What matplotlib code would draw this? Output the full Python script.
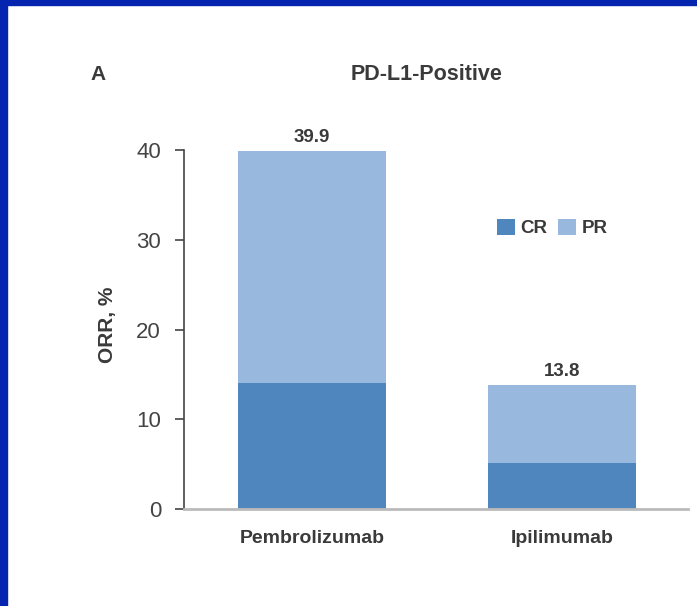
import matplotlib
matplotlib.use("Agg")
import matplotlib.pyplot as plt
from matplotlib.patches import Rectangle

categories = ["Pembrolizumab", "Ipilimumab"]
cr_values = [14.0, 5.1]
pr_values = [25.9, 8.7]
totals = [39.9, 13.8]
total_labels = ["39.9", "13.8"]
series_names = ["CR", "PR"]
yticks = [0, 10, 20, 30, 40]

CR_COLOR = "#4F86BD"
PR_COLOR = "#98B8DE"
TXT = "#3a3a3a"

plt.rcParams["font.family"] = ["Liberation Sans", "DejaVu Sans"]

W, H = 697, 606
fig = plt.figure(figsize=(W / 100, H / 100), dpi=100)
fig.patch.set_facecolor("white")

# blue frame (top and left)
fig.patches.append(Rectangle((0, 1 - 5 / H), 1, 5 / H, transform=fig.transFigure,
                             color="#0524B0", zorder=0))
fig.patches.append(Rectangle((0, 0), 7 / W, 1, transform=fig.transFigure,
                             color="#0524B0", zorder=0))

ax_l, ax_r, ax_b, ax_t = 184, 688, 509, 150
ax = fig.add_axes([ax_l / W, (H - ax_b) / H, (ax_r - ax_l) / W, (ax_b - ax_t) / H])

x = list(range(len(categories)))
bw = 0.59
ax.bar(x, cr_values, width=bw, color=CR_COLOR, label=series_names[0], zorder=2)
ax.bar(x, pr_values, width=bw, bottom=cr_values, color=PR_COLOR,
       label=series_names[1], zorder=2)

for xi, t, lab in zip(x, totals, total_labels):
    ax.text(xi, t + 0.6, lab, ha="center", va="bottom", fontsize=13.5,
            fontweight="bold", color=TXT)

ax.set_xlim(-0.512, 1.504)
ax.set_ylim(0, 40)
ax.set_yticks(yticks)
ax.set_yticklabels([str(v) for v in yticks], fontsize=16, color="#444444")
ax.set_xticks(x)
ax.set_xticklabels(categories, fontsize=14, fontweight="bold", color=TXT)
ax.tick_params(axis="x", length=0, pad=15)
ax.tick_params(axis="y", length=6.5, width=1.2, color="#444444", pad=10)

for s in ["top", "right"]:
    ax.spines[s].set_visible(False)
ax.spines["left"].set_color("#444444")
ax.spines["left"].set_linewidth(1.2)
ax.spines["bottom"].set_color("#bbbbbb")
ax.spines["bottom"].set_linewidth(2)
ax.spines["bottom"].set_zorder(3)

ax.set_ylabel("ORR, %", fontsize=15, fontweight="bold", color=TXT)
ax.yaxis.set_label_coords(-(184 - 117) / (ax_r - ax_l), (509 - 325) / (ax_b - ax_t))

leg = ax.legend(loc="center left", bbox_to_anchor=((497 - ax_l) / (ax_r - ax_l),
                                                   (ax_b - 228) / (ax_b - ax_t)),
                ncol=2, frameon=False, handlelength=0.96, handleheight=0.96,
                handletextpad=0.3, columnspacing=0.55, borderpad=0, borderaxespad=0,
                prop={"size": 13.5, "weight": "bold"})
for t in leg.get_texts():
    t.set_color(TXT)

fig.text(90 / W, 1 - 75 / H, "A", fontsize=15, fontweight="bold", color=TXT,
         ha="left", va="center")
fig.text(427 / W, 1 - 74 / H, "PD-L1-Positive", fontsize=15.5, fontweight="bold",
         color=TXT, ha="center", va="center")

fig.savefig("out.png", dpi=100)
